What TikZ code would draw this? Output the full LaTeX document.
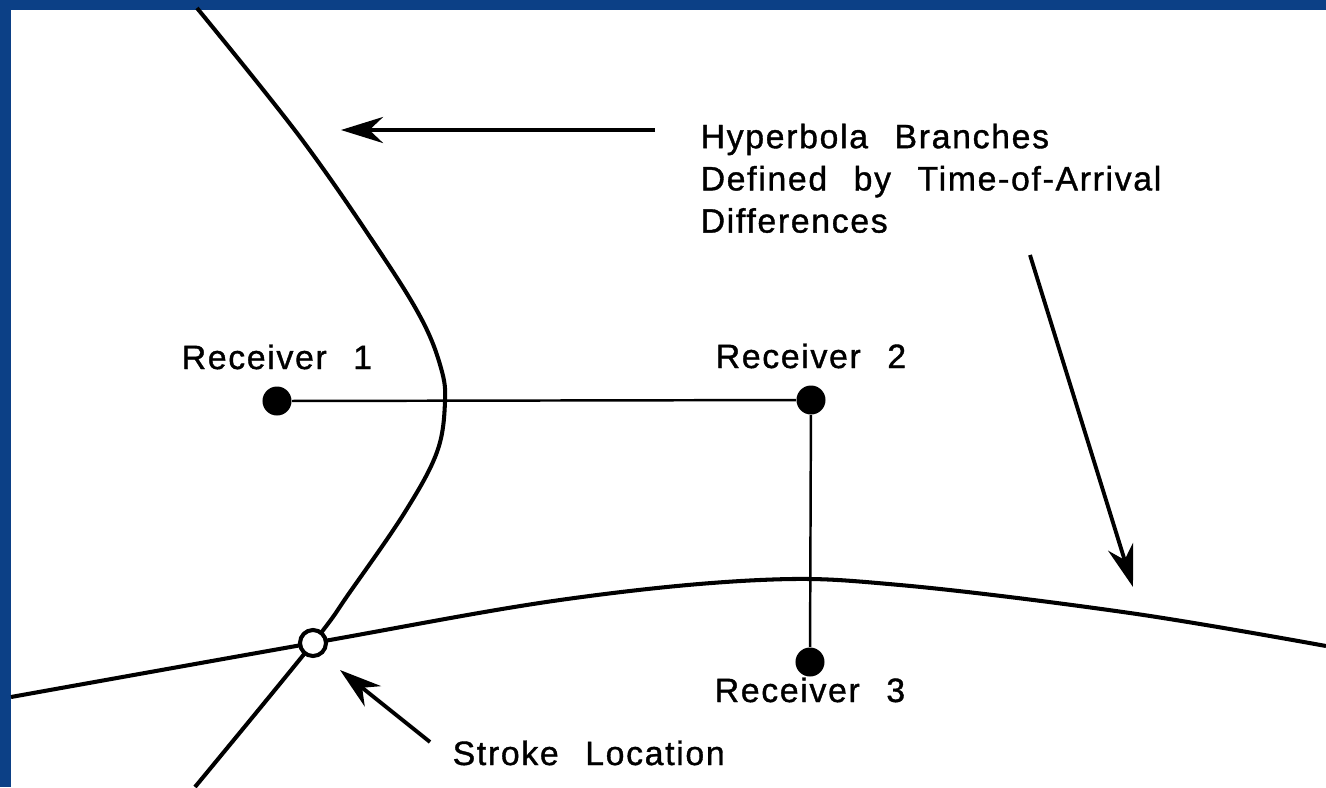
\documentclass[tikz,border=0pt]{standalone}
\usepackage{fontspec}
\setmainfont{Liberation Sans}[LetterSpace=5,WordSpace=2.4,FakeBold=1.1]
\usetikzlibrary{arrows.meta,calc}
\definecolor{slideblue}{RGB}{12,64,134}

\begin{document}
\begin{tikzpicture}[x=0.01cm,y=-0.01cm,
    >={Stealth[length=0.42cm,width=0.26cm]},
    curve/.style={line width=1.15pt},
    link/.style={line width=0.7pt},
    rcv/.style={circle,fill,inner sep=0pt,minimum size=0.29cm},
    lbl/.style={font=\fontsize{9.6}{12}\selectfont,inner sep=0pt}]
    \useasboundingbox (0,0) rectangle (1326,787);
    % slide frame
    \fill[slideblue] (0,0) rectangle (1326,787);
    \fill[white] (11,10) rectangle (1326,787);
    % hyperbola branches
    \draw[curve] plot[smooth,tension=0.6] coordinates {(197,8) (300,137) (380,252)
      (422,320) (441,368) (445,402) (437,452) (405,512) (350,592) (313,643) (195,787)};
    \draw[curve] plot[smooth,tension=0.6] coordinates {(11,697) (313,643)
      (560,600) (760,580) (900,585) (1130,613) (1326,646)};
    % receivers
    \node[rcv] (r1) at (277,401) {};
    \node[rcv] (r2) at (811,400) {};
    \node[rcv] (r3) at (810,662) {};
    \draw[link] (r1) -- (r2);
    \draw[link] (r2) -- (r3);
    \node[lbl,anchor=base] (r1lbl) at (277,369) {Receiver 1};
    \node[lbl,anchor=base] (r2lbl) at (811,368) {Receiver 2};
    \node[lbl,anchor=base] (r3lbl) at (810,702) {Receiver 3};
    % stroke
    \node[draw,circle,fill=white,line width=1.15pt,inner sep=0pt,minimum size=0.26cm]
      (stroke) at (313,643) {};
    \node[lbl,anchor=base west] (strokelbl) at (452,765) {Stroke Location};
    % annotation
    \node[lbl,anchor=north west,align=left] (hyplbl) at (700,123)
      {Hyperbola Branches\\Defined by Time-of-Arrival\\Differences};
    \coordinate (t1) at (655,130);
    \coordinate (h1) at (341,130);
    \coordinate (t2) at (1030,255);
    \coordinate (h2) at (1133,587);
    \coordinate (t3) at (430,742);
    \coordinate (h3) at (340,670);
    \draw[->,line width=1.1pt] (t1) -- (h1);
    \draw[->,line width=1.1pt] (t2) -- (h2);
    \draw[->,line width=1.1pt] (t3) -- (h3);
\end{tikzpicture}
\end{document}
